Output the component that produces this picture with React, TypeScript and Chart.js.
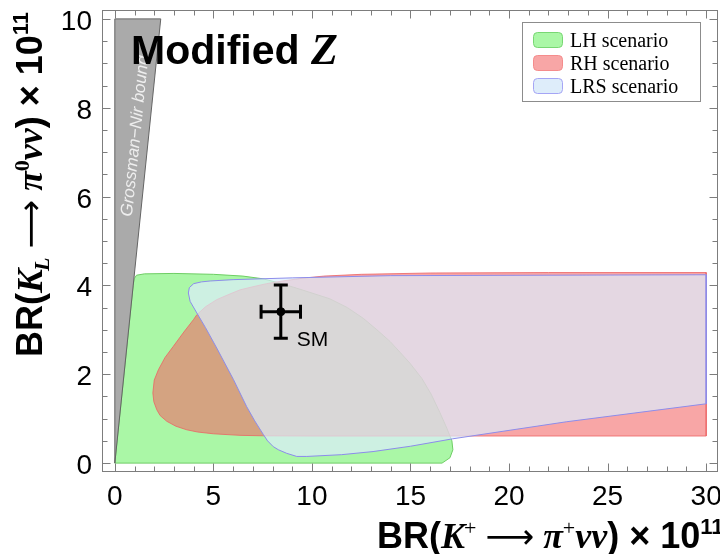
import React, { useEffect, useRef } from 'react';
import { Chart, registerables } from 'chart.js';

Chart.register(...registerables);

// Axis ranges (with a small padding around the data window) and tick values
const X_RANGE = [-0.6, 30.6];
const Y_RANGE = [-0.2, 10.2];
const X_MAJOR_TICKS = [0, 5, 10, 15, 20, 25, 30];
const Y_MAJOR_TICKS = [0, 2, 4, 6, 8, 10];
const X_MINOR_STEP = 1;
const Y_MINOR_STEP = 0.5;

// Grossman–Nir bound wedge: BR(K_L) < 4.3 BR(K+)
const GN_BOUND: [number, number][] = [
  [0, 0], [0, 10], [2.33, 10], [0, 0],
];

// Allowed region, left-handed couplings
const LH_REGION: [number, number][] = [
  [0.0, 0.0], [0.93, 4.0], [0.98, 4.15], [1.1, 4.23], [1.5, 4.26], [3.0, 4.27],
  [5.0, 4.25], [6.5, 4.21], [7.5, 4.15], [8.4, 4.05], [9.5, 3.9], [10.9, 3.7],
  [11.8, 3.5], [12.6, 3.26], [13.3, 3.0], [13.96, 2.74], [14.5, 2.48], [14.97, 2.25],
  [15.57, 1.91], [16.05, 1.55], [16.5, 1.13], [16.85, 0.78], [17.1, 0.5], [17.15, 0.3],
  [17.0, 0.12], [16.6, 0.0], [0.0, 0.0],
];

// Allowed region, right-handed couplings
const RH_REGION: [number, number][] = [
  [1.93, 1.58], [2.0, 1.87], [2.21, 2.1], [2.55, 2.38], [2.97, 2.63], [3.5, 2.95],
  [3.99, 3.23], [4.16, 3.34], [4.6, 3.52], [5.17, 3.68], [5.8, 3.8], [6.35, 3.9],
  [7.0, 3.97], [7.7, 4.04], [8.5, 4.1], [9.5, 4.16], [10.6, 4.21], [12.5, 4.25],
  [16, 4.28], [22, 4.29], [30, 4.29], [30, 0.61], [20, 0.61], [10, 0.61],
  [7.5, 0.615], [6.35, 0.625], [5.0, 0.66], [4.2, 0.7], [3.65, 0.75], [3.1, 0.83],
  [2.64, 0.94], [2.3, 1.07], [2.13, 1.2], [1.98, 1.38], [1.93, 1.58],
];

// Allowed region, left-right symmetric couplings
const LRS_REGION: [number, number][] = [
  [3.73, 3.83], [3.78, 3.95], [4.0, 4.04], [4.4, 4.08], [4.84, 4.1], [6, 4.13],
  [9, 4.17], [14, 4.22], [30, 4.24], [30, 1.335], [22.9, 0.93], [17.14, 0.547],
  [15, 0.38], [13.1, 0.26], [11.5, 0.19], [9.74, 0.15], [9.23, 0.15], [8.72, 0.22],
  [8.3, 0.3], [8.04, 0.37], [7.75, 0.5], [7.54, 0.64], [7.1, 0.95], [6.69, 1.27],
  [6.02, 1.88], [5.17, 2.59], [4.6, 3.05], [4.16, 3.38], [3.82, 3.64], [3.73, 3.83],
];

// Standard Model prediction with uncertainties
const SM_X = [8.42];
const SM_Y = [3.41];
const SM_X_ERR = [1.0];
const SM_Y_ERR = [0.6];

const SCENARIO_LABELS = ['LH scenario', 'RH scenario', 'LRS scenario'];

const SANS = '"Liberation Sans", Arial, Helvetica, sans-serif';
const SERIF = '"Liberation Serif", "Times New Roman", serif';
const FRAME = 'rgb(125,125,125)';

type Seg = { t: string; font: string; dy?: number; kern?: number };

function drawRich(ctx: CanvasRenderingContext2D, segs: Seg[], x0: number, y0: number) {
  let x = x0;
  for (const s of segs) {
    ctx.font = s.font;
    ctx.fillText(s.t, x, y0 + (s.dy || 0));
    x += ctx.measureText(s.t).width + (s.kern || 0);
  }
  return x - x0;
}

function titleSegs(kind: 'x' | 'y', S: number): Seg[] {
  const sansB = `bold ${S}px ${SANS}`;
  const serifBI = `bold italic ${S}px ${SERIF}`;
  const small = Math.round(S * 0.6);
  const segs: Seg[] = [{ t: 'BR(', font: sansB }];
  if (kind === 'x') {
    segs.push({ t: 'K', font: serifBI, kern: -1 });
    segs.push({ t: '+', font: `${small}px ${SERIF}`, dy: -S * 0.36 });
  } else {
    segs.push({ t: 'K', font: serifBI, kern: -2 });
    segs.push({ t: 'L', font: `bold italic ${small}px ${SERIF}`, dy: S * 0.2 });
  }
  segs.push({ t: ' ', font: `${S}px ${SERIF}` });
  segs.push({ t: '\u27F6', font: `${Math.round(S * 0.95)}px "DejaVu Sans", ${SERIF}` });
  segs.push({ t: ' ', font: `${S}px ${SERIF}` });
  segs.push({ t: '\u03C0', font: serifBI });
  segs.push({
    t: kind === 'x' ? '+' : '0',
    font: kind === 'x' ? `${small}px ${SERIF}` : `bold ${small}px ${SERIF}`,
    dy: -S * 0.36,
  });
  segs.push({ t: '\u03BD\u03BD', font: serifBI });
  segs.push({ t: ') \u00D7 10', font: sansB });
  segs.push({ t: '11', font: `bold ${Math.round(S * 0.62)}px ${SANS}`, dy: -S * 0.38 });
  return segs;
}

const decorPlugin = {
  id: 'decor',
  afterDatasetsDraw(chart: any) {
    const ctx: CanvasRenderingContext2D = chart.ctx;
    const xs = chart.scales.x;
    const ys = chart.scales.y;
    const area = chart.chartArea;
    const px = (v: number) => xs.getPixelForValue(v);
    const py = (v: number) => ys.getPixelForValue(v);

    ctx.save();

    // Label inside the Grossman–Nir wedge
    ctx.save();
    ctx.beginPath();
    ctx.rect(area.left, area.top, area.right - area.left, area.bottom - area.top);
    ctx.clip();
    ctx.translate(px(0) + 17, py(5.54));
    ctx.rotate(-Math.atan2(py(0) - py(4.3), px(1) - px(0)));
    ctx.font = `italic 17px ${SANS}`;
    ctx.fillStyle = 'rgb(238,238,238)';
    ctx.textBaseline = 'alphabetic';
    ctx.fillText('Grossman\u2212Nir bound', 0, 0);
    ctx.restore();

    // Panel title
    ctx.fillStyle = '#000';
    ctx.textBaseline = 'alphabetic';
    ctx.textAlign = 'left';
    drawRich(ctx, [
      { t: 'Modified ', font: `bold 41px ${SANS}` },
      { t: 'Z', font: `bold italic 44px ${SERIF}` },
    ], 131, 64);

    // SM point with error bars
    ctx.strokeStyle = '#000';
    ctx.lineWidth = 3;
    for (let i = 0; i < SM_X.length; i++) {
      const cx = px(SM_X[i]);
      const cy = py(SM_Y[i]);
      const x1 = px(SM_X[i] - SM_X_ERR[i]);
      const x2 = px(SM_X[i] + SM_X_ERR[i]);
      const y1 = py(SM_Y[i] + SM_Y_ERR[i]);
      const y2 = py(SM_Y[i] - SM_Y_ERR[i]);
      const cap = 7;
      ctx.beginPath();
      ctx.moveTo(x1, cy); ctx.lineTo(x2, cy);
      ctx.moveTo(cx, y1); ctx.lineTo(cx, y2);
      ctx.moveTo(x1, cy - cap); ctx.lineTo(x1, cy + cap);
      ctx.moveTo(x2, cy - cap); ctx.lineTo(x2, cy + cap);
      ctx.moveTo(cx - cap, y1); ctx.lineTo(cx + cap, y1);
      ctx.moveTo(cx - cap, y2); ctx.lineTo(cx + cap, y2);
      ctx.stroke();
      ctx.font = `21px ${SANS}`;
      ctx.fillText('SM', cx + 16, cy + 34);
    }

    // Frame with inward ticks
    ctx.strokeStyle = FRAME;
    ctx.lineWidth = 1;
    const L = Math.round(area.left) - 0.5;
    const R = Math.round(area.right) - 0.5;
    const T = Math.round(area.top) + 0.5;
    const B = Math.round(area.bottom) - 0.5;
    ctx.strokeRect(L, T, R - L, B - T);
    ctx.beginPath();
    for (let v = X_MAJOR_TICKS[0]; v <= X_MAJOR_TICKS[X_MAJOR_TICKS.length - 1] + 1e-9; v += X_MINOR_STEP) {
      const major = X_MAJOR_TICKS.includes(v);
      const len = major ? 8 : 5;
      const x = Math.round(px(v)) + 0.5;
      ctx.moveTo(x, B); ctx.lineTo(x, B - len);
      ctx.moveTo(x, T); ctx.lineTo(x, T + len);
    }
    for (let v = Y_MAJOR_TICKS[0]; v <= Y_MAJOR_TICKS[Y_MAJOR_TICKS.length - 1] + 1e-9; v += Y_MINOR_STEP) {
      const major = Y_MAJOR_TICKS.includes(v);
      const len = major ? 8 : 5;
      const y = Math.round(py(v)) + 0.5;
      ctx.moveTo(L, y); ctx.lineTo(L + len, y);
      ctx.moveTo(R, y); ctx.lineTo(R - len, y);
    }
    ctx.stroke();

    // Tick labels
    ctx.fillStyle = '#000';
    ctx.font = `28px ${SANS}`;
    ctx.textAlign = 'center';
    for (const v of X_MAJOR_TICKS) ctx.fillText(String(v), px(v), 505);
    ctx.textAlign = 'right';
    for (const v of Y_MAJOR_TICKS) ctx.fillText(String(v), 92, py(v) + 11);

    // Axis titles
    ctx.textAlign = 'left';
    drawRich(ctx, titleSegs('x', 36), 377, 548);
    ctx.save();
    ctx.translate(42, 357);
    ctx.rotate(-Math.PI / 2);
    drawRich(ctx, titleSegs('y', 36), 0, 0);
    ctx.restore();

    // Legend, in scenario order
    const sets = SCENARIO_LABELS
      .map((lab) => chart.data.datasets.find((d: any) => d.label === lab))
      .filter(Boolean);
    const bx = 522.5, by = 22.5, bw = 178, bh = 79;
    ctx.fillStyle = '#fff';
    ctx.fillRect(bx, by, bw, bh);
    ctx.strokeStyle = 'rgb(140,140,140)';
    ctx.strokeRect(bx, by, bw, bh);
    sets.forEach((d: any, i: number) => {
      const sy = 32.5 + i * 23;
      ctx.beginPath();
      (ctx as any).roundRect(533.5, sy, 29, 15, 4);
      ctx.fillStyle = d.legendFill;
      ctx.fill();
      ctx.strokeStyle = d.legendEdge;
      ctx.lineWidth = 1;
      ctx.stroke();
      ctx.fillStyle = '#000';
      ctx.font = `20px ${SERIF}`;
      ctx.textAlign = 'left';
      ctx.fillText(d.label, 570, sy + 14.5);
    });

    ctx.restore();
  },
};

const pts = (arr: [number, number][]) => arr.map(([x, y]) => ({ x, y }));

export default function App() {
  const ref = useRef<HTMLCanvasElement>(null);

  useEffect(() => {
    const canvas = ref.current;
    if (!canvas) return;
    const region = (label: string, data: [number, number][], bg: string, edge: string, order: number, extra: any = {}) => ({
      type: 'line',
      label,
      data: pts(data),
      showLine: true,
      fill: 'shape',
      backgroundColor: bg,
      borderColor: edge,
      borderWidth: 1,
      pointRadius: 0,
      tension: 0,
      order,
      ...extra,
    });
    const chart = new Chart(canvas, {
      type: 'scatter',
      data: {
        datasets: [
          {
            label: 'SM',
            data: SM_X.map((x, i) => ({ x, y: SM_Y[i] })),
            pointRadius: 4,
            pointBackgroundColor: '#000',
            pointBorderColor: '#000',
            order: 0,
          },
          region('LRS scenario', LRS_REGION, 'rgba(219,237,252,0.7)', 'rgb(140,140,235)', 1,
            { legendFill: 'rgb(222,237,250)', legendEdge: 'rgb(165,165,245)' }),
          region('RH scenario', RH_REGION, 'rgba(243,102,102,0.58)', 'rgba(235,100,100,0.8)', 2,
            { legendFill: 'rgb(248,166,166)', legendEdge: 'rgb(245,140,140)' }),
          region('LH scenario', LH_REGION, 'rgb(170,247,166)', 'rgb(110,205,100)', 3,
            { legendFill: 'rgb(170,247,166)', legendEdge: 'rgb(120,215,115)' }),
          region('Grossman\u2013Nir bound', GN_BOUND, 'rgb(170,170,170)', 'rgb(100,100,100)', 0.5),
        ] as any,
      },
      options: {
        responsive: false,
        devicePixelRatio: 1,
        animation: false,
        layout: { autoPadding: false, padding: { left: 103, top: 10, right: 2, bottom: 82 } },
        scales: {
          x: { type: 'linear', min: X_RANGE[0], max: X_RANGE[1], display: false },
          y: { type: 'linear', min: Y_RANGE[0], max: Y_RANGE[1], display: false },
        },
        plugins: {
          legend: { display: false },
          tooltip: { enabled: false },
        },
      } as any,
      plugins: [decorPlugin],
    });
    return () => chart.destroy();
  }, []);

  return (
    <div style={{ position: 'absolute', left: 0, top: 0, width: 720, height: 554, background: '#fff', overflow: 'hidden' }}>
      <canvas ref={ref} width={720} height={554} style={{ display: 'block', width: 720, height: 554 }} />
    </div>
  );
}
